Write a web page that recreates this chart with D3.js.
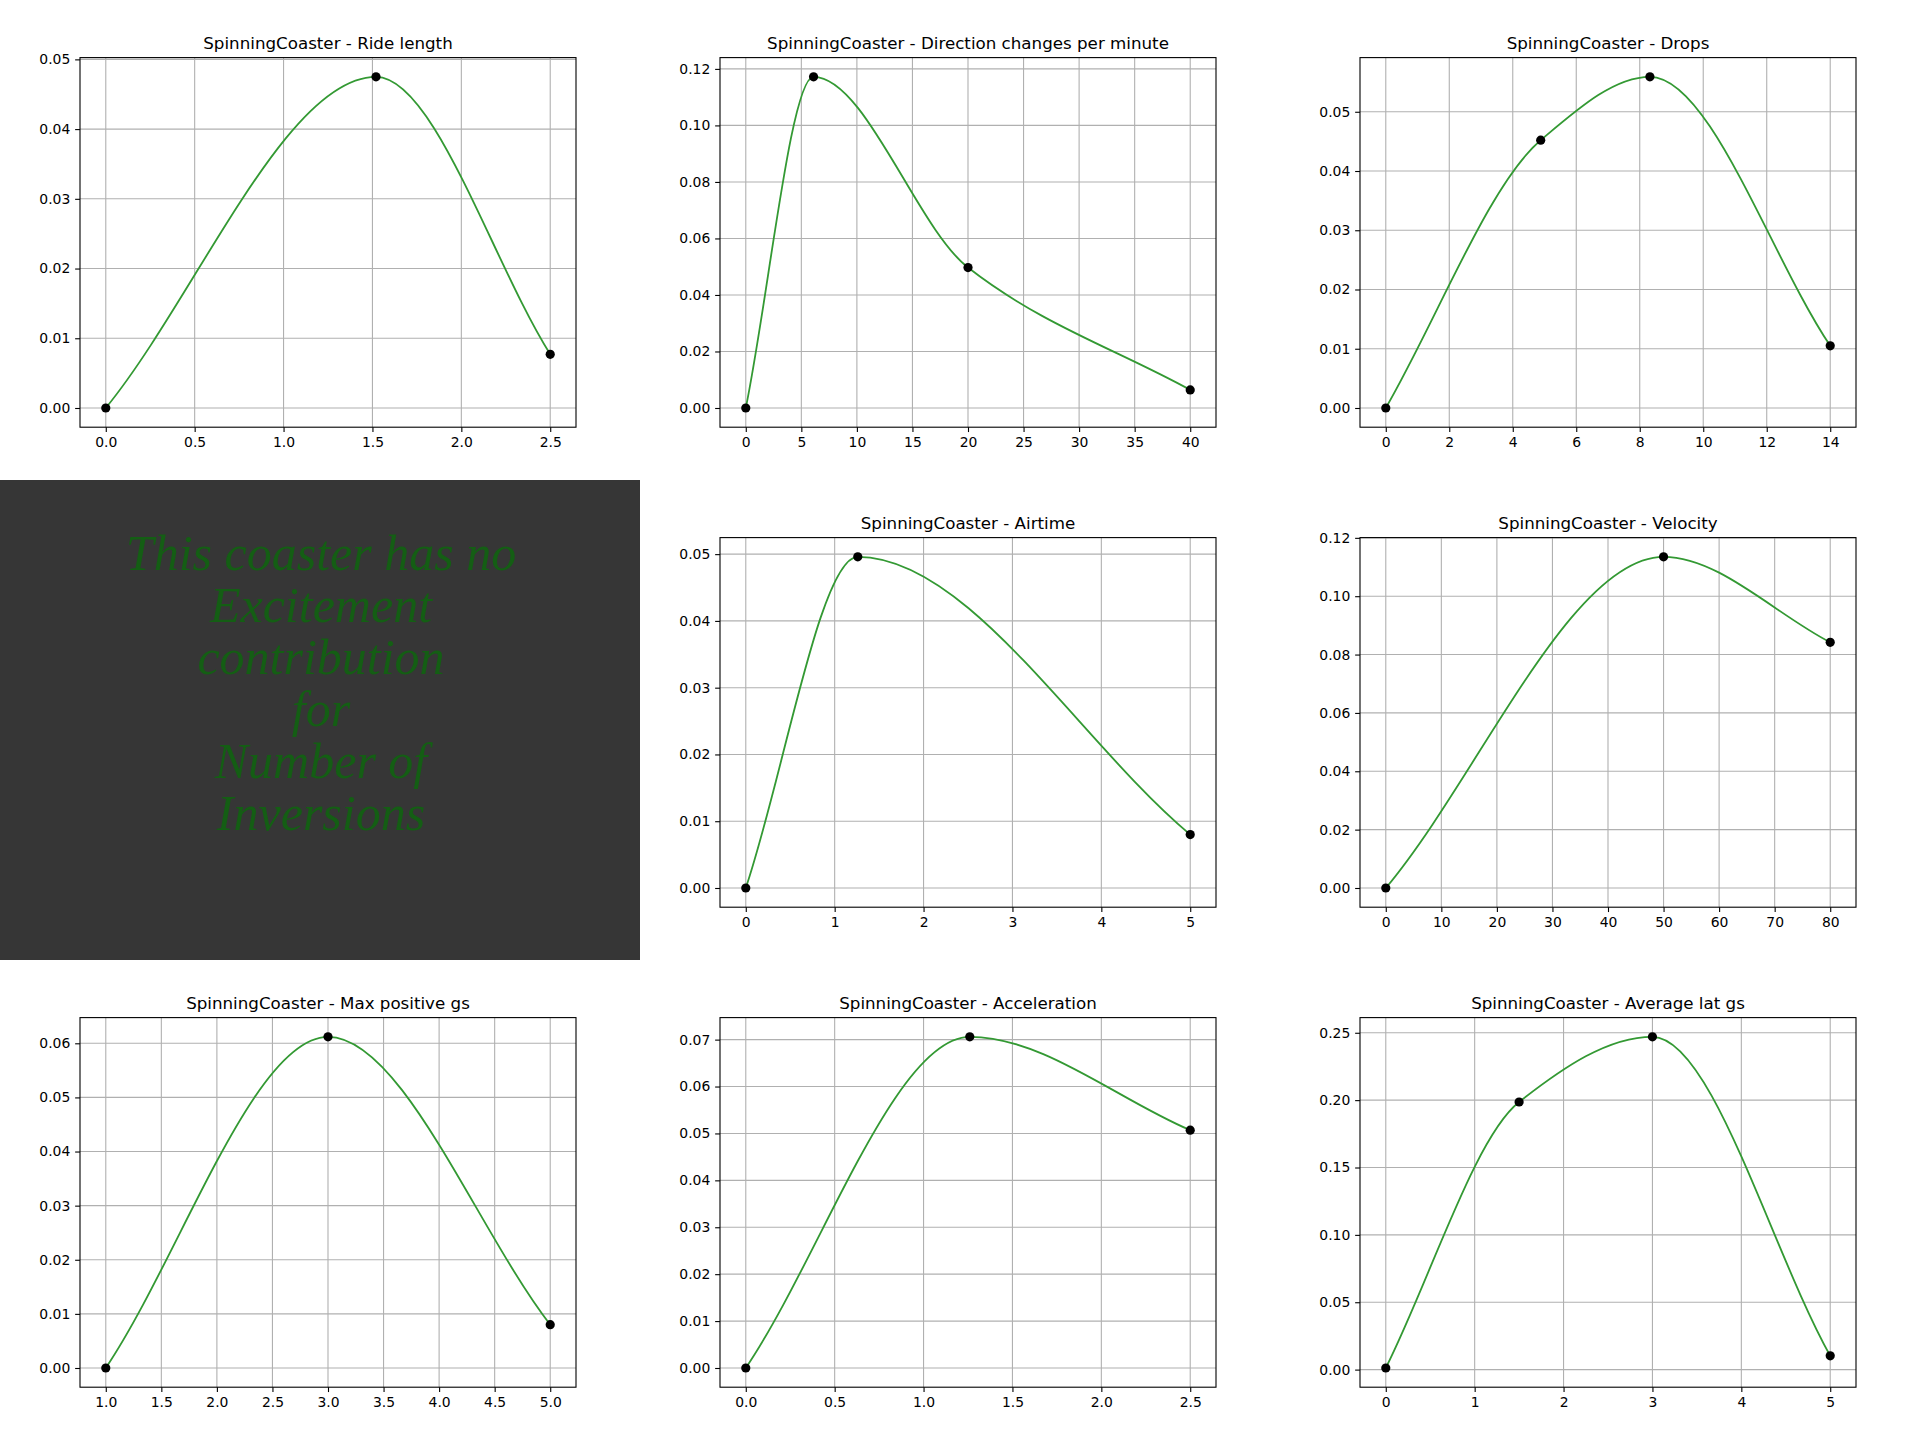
<!DOCTYPE html>
<html>
<head>
<meta charset="utf-8">
<script src="https://cdn.jsdelivr.net/npm/d3@7"></script>
<style>
  html, body { margin: 0; padding: 0; background: #ffffff; }
  svg { display: block; }
</style>
</head>
<body>
<svg id="chart" width="1920" height="1440"></svg>
<script>
// ---------------- DATA ----------------
const coaster = "SpinningCoaster";

const panelNames = ["Ride length", "Direction changes per minute", "Drops",
                    null, "Airtime", "Velocity",
                    "Max positive gs", "Acceleration", "Average lat gs"];

// Ride length
const rideLengthX = [0, 1.52, 2.5];
const rideLengthY = [0, 0.0475, 0.0077];
const rideLengthXTicks = [0, 0.5, 1.0, 1.5, 2.0, 2.5];
const rideLengthYTicks = [0, 0.01, 0.02, 0.03, 0.04, 0.05];

// Direction changes per minute
const directionX = [0, 6.1, 20, 40];
const directionY = [0, 0.1172, 0.0497, 0.0064];
const directionXTicks = [0, 5, 10, 15, 20, 25, 30, 35, 40];
const directionYTicks = [0, 0.02, 0.04, 0.06, 0.08, 0.10, 0.12];

// Drops
const dropsX = [0, 4.88, 8.32, 14];
const dropsY = [0, 0.0452, 0.0559, 0.0105];
const dropsXTicks = [0, 2, 4, 6, 8, 10, 12, 14];
const dropsYTicks = [0, 0.01, 0.02, 0.03, 0.04, 0.05];

// Airtime
const airtimeX = [0, 1.26, 5];
const airtimeY = [0, 0.0496, 0.0080];
const airtimeXTicks = [0, 1, 2, 3, 4, 5];
const airtimeYTicks = [0, 0.01, 0.02, 0.03, 0.04, 0.05];

// Velocity
const velocityX = [0, 50, 80];
const velocityY = [0, 0.1135, 0.0842];
const velocityXTicks = [0, 10, 20, 30, 40, 50, 60, 70, 80];
const velocityYTicks = [0, 0.02, 0.04, 0.06, 0.08, 0.10, 0.12];

// Max positive gs
const maxPosGsX = [1.0, 3.0, 5.0];
const maxPosGsY = [0, 0.0612, 0.0080];
const maxPosGsXTicks = [1.0, 1.5, 2.0, 2.5, 3.0, 3.5, 4.0, 4.5, 5.0];
const maxPosGsYTicks = [0, 0.01, 0.02, 0.03, 0.04, 0.05, 0.06];

// Acceleration
const accelX = [0, 1.26, 2.5];
const accelY = [0, 0.0706, 0.0507];
const accelXTicks = [0, 0.5, 1.0, 1.5, 2.0, 2.5];
const accelYTicks = [0, 0.01, 0.02, 0.03, 0.04, 0.05, 0.06, 0.07];

// Average lat gs
const latGsX = [0, 1.5, 3, 5];
const latGsY = [0.0012, 0.1986, 0.247, 0.0102];
const latGsXTicks = [0, 1, 2, 3, 4, 5];
const latGsYTicks = [0, 0.05, 0.10, 0.15, 0.20, 0.25];

// Tick label formats
const xFormats = [".1f", "d", "d", null, "d", "d", ".1f", ".1f", "d"];
const yFormats = [".2f", ".2f", ".2f", null, ".2f", ".2f", ".2f", ".2f", ".2f"];

// Empty-panel message
const noDataLines = ["This coaster has no", "Excitement", "contribution", "for", "Number of", "Inversions"];

// ---------------- CURVE ----------------
// Piecewise-cubic Hermite (PCHIP-style interior slopes, one-sided secant slopes at the ends)
function curvePchipSecant(context) {
  let xs, ys;
  return {
    areaStart() {}, areaEnd() {},
    lineStart() { xs = []; ys = []; },
    point(x, y) { xs.push(+x); ys.push(+y); },
    lineEnd() {
      const n = xs.length;
      if (!n) return;
      context.moveTo(xs[0], ys[0]);
      if (n === 1) return;
      const h = [], d = [];
      for (let k = 0; k < n - 1; k++) {
        h.push(xs[k + 1] - xs[k]);
        d.push((ys[k + 1] - ys[k]) / h[k]);
      }
      const m = new Array(n);
      m[0] = d[0];
      m[n - 1] = d[n - 2];
      for (let k = 1; k < n - 1; k++) {
        if (d[k - 1] * d[k] <= 0) { m[k] = 0; continue; }
        const w1 = 2 * h[k] + h[k - 1], w2 = h[k] + 2 * h[k - 1];
        m[k] = (w1 + w2) / (w1 / d[k - 1] + w2 / d[k]);
      }
      for (let k = 0; k < n - 1; k++) {
        const dx = h[k] / 3;
        context.bezierCurveTo(xs[k] + dx, ys[k] + dx * m[k],
                              xs[k + 1] - dx, ys[k + 1] - dx * m[k + 1],
                              xs[k + 1], ys[k + 1]);
      }
    }
  };
}

// ---------------- BUILD ----------------
const series = [
  {x: rideLengthX, y: rideLengthY, xt: rideLengthXTicks, yt: rideLengthYTicks},
  {x: directionX, y: directionY, xt: directionXTicks, yt: directionYTicks},
  {x: dropsX, y: dropsY, xt: dropsXTicks, yt: dropsYTicks},
  null,
  {x: airtimeX, y: airtimeY, xt: airtimeXTicks, yt: airtimeYTicks},
  {x: velocityX, y: velocityY, xt: velocityXTicks, yt: velocityYTicks},
  {x: maxPosGsX, y: maxPosGsY, xt: maxPosGsXTicks, yt: maxPosGsYTicks},
  {x: accelX, y: accelY, xt: accelXTicks, yt: accelYTicks},
  {x: latGsX, y: latGsY, xt: latGsXTicks, yt: latGsYTicks}
];

const svg = d3.select("#chart");
const cellW = 640, cellH = 480;
const axL = 80, axT = 57.6, axW = 496, axH = 369.6;
const marginFrac = 0.058;
const tickLen = 4.86, tickPad = 4.86;
const FONT = "DejaVu Sans, sans-serif";

function padded(ext) {
  const span = ext[1] - ext[0];
  return [ext[0] - span * marginFrac, ext[1] + span * marginFrac];
}

series.forEach((s, i) => {
  const row = Math.floor(i / 3), col = i % 3;
  const cell = svg.append("g").attr("transform", `translate(${col * cellW},${row * cellH})`);

  if (s === null) {
    cell.append("rect").attr("x", 0).attr("y", 0).attr("width", cellW).attr("height", cellH)
      .attr("fill", "#363636");
    const txt = cell.append("text")
      .attr("text-anchor", "middle")
      .attr("font-family", "Liberation Serif, DejaVu Serif, serif")
      .attr("font-style", "italic")
      .attr("font-size", 50)
      .attr("fill", "#145e14");
    noDataLines.forEach((line, k) => {
      txt.append("tspan").attr("x", 321).attr("y", 90 + k * 52).text(line);
    });
    return;
  }

  const pts = s.x.map((xv, k) => ({x: xv, y: s.y[k]}));
  const x = d3.scaleLinear().domain(padded(d3.extent(s.x))).range([axL, axL + axW]);
  const y = d3.scaleLinear().domain(padded(d3.extent(s.y))).range([axT + axH, axT]);

  const g = cell.append("g");

  // grid
  g.append("g").selectAll("line").data(s.xt).join("line")
    .attr("x1", d => x(d)).attr("x2", d => x(d))
    .attr("y1", axT).attr("y2", axT + axH)
    .attr("stroke", "#b0b0b0").attr("stroke-width", 1.1);
  g.append("g").selectAll("line").data(s.yt).join("line")
    .attr("x1", axL).attr("x2", axL + axW)
    .attr("y1", d => y(d)).attr("y2", d => y(d))
    .attr("stroke", "#b0b0b0").attr("stroke-width", 1.1);

  // axes
  const xAxis = d3.axisBottom(x).tickValues(s.xt).tickSize(tickLen).tickPadding(tickPad)
    .tickFormat(d3.format(xFormats[i]));
  const yAxis = d3.axisLeft(y).tickValues(s.yt).tickSize(tickLen).tickPadding(tickPad)
    .tickFormat(d3.format(yFormats[i]));
  const gx = g.append("g").attr("transform", `translate(0,${axT + axH})`).call(xAxis);
  const gy = g.append("g").attr("transform", `translate(${axL},0)`).call(yAxis);
  [gx, gy].forEach(a => {
    a.select(".domain").remove();
    a.selectAll(".tick line").attr("stroke", "#000").attr("stroke-width", 1.1);
    a.selectAll(".tick text").attr("font-family", FONT).attr("font-size", 13.9).attr("fill", "#000");
  });

  // curve
  const line = d3.line().x(d => x(d.x)).y(d => y(d.y)).curve(curvePchipSecant);
  g.append("path").datum(pts).attr("d", line)
    .attr("fill", "none").attr("stroke", "#339933").attr("stroke-width", 1.8);

  // points
  g.append("g").selectAll("circle").data(pts).join("circle")
    .attr("cx", d => x(d.x)).attr("cy", d => y(d.y)).attr("r", 4.6).attr("fill", "#000");

  // spines
  g.append("rect").attr("x", axL).attr("y", axT).attr("width", axW).attr("height", axH)
    .attr("fill", "none").attr("stroke", "#000").attr("stroke-width", 1.1);

  // title
  g.append("text").attr("x", axL + axW / 2).attr("y", axT - 8.3)
    .attr("text-anchor", "middle").attr("font-family", FONT).attr("font-size", 16.7)
    .attr("fill", "#000").text(`${coaster} - ${panelNames[i]}`);
});
</script>
</body>
</html>
